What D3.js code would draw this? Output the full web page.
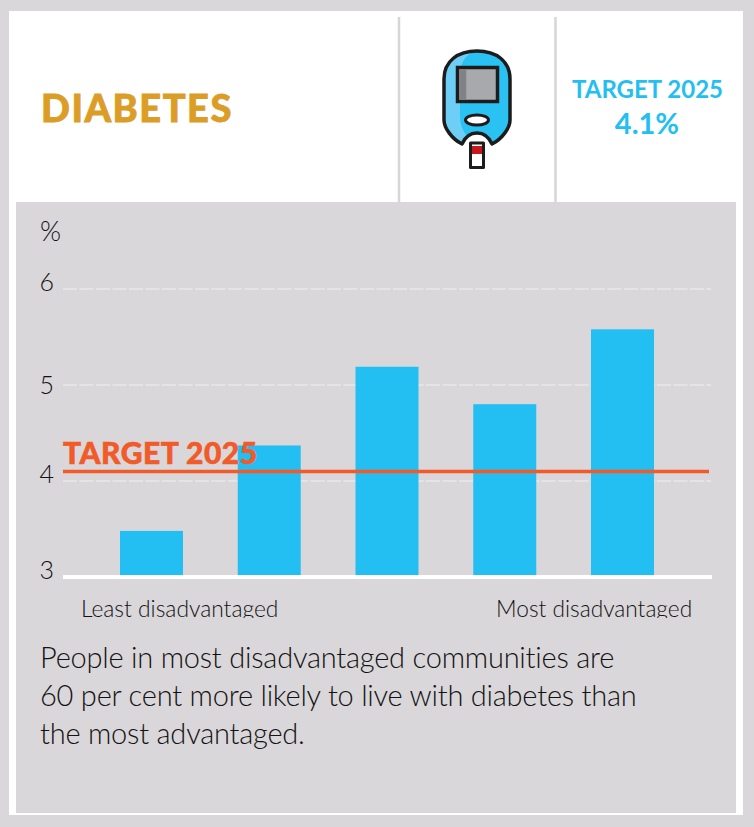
<!DOCTYPE html>
<html>
<head>
<meta charset="utf-8">
<script src="https://cdn.jsdelivr.net/npm/d3@7"></script>
<style>
  html, body { margin: 0; padding: 0; background: #d9d7da; }
  svg { display: block; }
  text { font-family: Lato, sans-serif; }
</style>
</head>
<body>
<div id="chart"></div>
<script>
const categories = ["q1", "q2", "q3", "q4", "q5"];
const values = [3.48, 4.37, 5.19, 4.80, 5.58];
const yTicks = [3, 4, 5, 6];
const target = 4.1;
const captionLines = [
    "People in most disadvantaged communities are",
    "60 per cent more likely to live with diabetes than",
    "the most advantaged."
];

const grey = "#d9d7da", blue = "#23bff2", orange = "#f15a29", gold = "#dc9d27", ink = "#141213";

const svg = d3.select("#chart").append("svg")
    .attr("width", 754)
    .attr("height", 827)
    .attr("viewBox", "0 0 754 827");

// panels
svg.append("rect").attr("width", 754).attr("height", 827).attr("fill", grey);
svg.append("rect").attr("x", 9).attr("y", 11).attr("width", 734).attr("height", 804).attr("fill", "#fff");
svg.append("rect").attr("x", 16).attr("y", 202).attr("width", 720).attr("height", 611).attr("fill", grey);

// header dividers
svg.selectAll("line.divider")
    .data([399, 555.5])
    .enter()
    .append("line")
    .attr("class", "divider")
    .attr("x1", d => d).attr("x2", d => d)
    .attr("y1", 17).attr("y2", 202)
    .attr("stroke", "#d6d6d6")
    .attr("stroke-width", 2.5);

svg.append("text")
    .attr("x", 41).attr("y", 122)
    .attr("font-size", 38).attr("font-weight", 900)
    .attr("letter-spacing", 1.5)
    .attr("stroke", gold).attr("stroke-width", 0.8)
    .attr("fill", gold)
    .text("DIABETES");

svg.append("text")
    .attr("x", 647.5).attr("y", 98)
    .attr("text-anchor", "middle")
    .attr("font-size", 24).attr("font-weight", 700)
    .attr("fill", blue)
    .text("TARGET 2025");

svg.append("text")
    .attr("x", 647).attr("y", 134)
    .attr("text-anchor", "middle")
    .attr("font-size", 29).attr("font-weight", 700)
    .attr("fill", blue)
    .text("4.1%");

// glucose meter icon
const icon = svg.append("g").attr("transform", "translate(442, 49)");
icon.append("rect").attr("x", 28.5).attr("y", 94).attr("width", 13).attr("height", 24.5)
    .attr("fill", "#fff").attr("stroke", "#1c1c1c").attr("stroke-width", 3).attr("stroke-linejoin", "round");
icon.append("rect").attr("x", 30).attr("y", 97).attr("width", 10).attr("height", 8).attr("fill", "#c8161d");
const body = "M2,30 C2,12 16,2 35,2 C54,2 68,12 68,30 L68,71 C68,79 60,90 50,95 C46,86 41,84 35,84 C29,84 24,86 20,95 C10,90 2,79 2,71 Z";
icon.append("path").attr("d", body).attr("fill", "#2ac1f3");
icon.append("path")
    .attr("d", "M2,30 C2,12 16,2 32,3 C24,6 18,12 18,30 L18,65 C18,75 20,80 24,86 L20,95 C10,90 2,79 2,71 Z")
    .attr("fill", "#6dcff6");
icon.append("path").attr("d", body).attr("fill", "none")
    .attr("stroke", "#1c1c1c").attr("stroke-width", 3.5).attr("stroke-linejoin", "round");
icon.append("rect").attr("x", 15.5).attr("y", 18.5).attr("width", 40).attr("height", 34)
    .attr("fill", "#a7a9ac").attr("stroke", "#1c1c1c").attr("stroke-width", 3.5);
icon.append("rect").attr("x", 17.25).attr("y", 20.25).attr("width", 7).attr("height", 30.5).attr("fill", "#808285");
icon.append("ellipse").attr("cx", 35).attr("cy", 71).attr("rx", 11.5).attr("ry", 5)
    .attr("fill", "#fff").attr("stroke", "#1c1c1c").attr("stroke-width", 3);

// chart
const x = d3.scaleBand()
    .domain(categories)
    .range([63, 711])
    .paddingInner(0.465)
    .paddingOuter(0.484);

const y = d3.scaleLinear()
    .domain([3, 6])
    .range([577, 289]);

const yAxis = svg.append("g")
    .attr("transform", "translate(62, 0)")
    .call(d3.axisLeft(y).tickValues(yTicks).tickSize(0).tickPadding(8).tickFormat(d3.format("d")));
yAxis.select(".domain").remove();
yAxis.selectAll("text")
    .attr("font-size", 25)
    .attr("font-weight", 300)
    .attr("fill", ink)
    .attr("dy", d => d === 5 ? "0.32em" : "0.04em")
    .style("font-family", "Lato, sans-serif");

svg.selectAll("line.grid")
    .data(yTicks.filter(d => d > 3))
    .enter()
    .append("line")
    .attr("class", "grid")
    .attr("x1", 63).attr("x2", 711)
    .attr("y1", d => y(d)).attr("y2", d => y(d))
    .attr("stroke", "#f1f0f1")
    .attr("stroke-width", 1)
    .attr("stroke-dasharray", "14 2.5");

svg.selectAll("rect.bar")
    .data(values)
    .enter()
    .append("rect")
    .attr("class", "bar")
    .attr("x", (d, i) => x(categories[i]))
    .attr("y", d => y(d))
    .attr("width", x.bandwidth())
    .attr("height", d => y(3) - y(d) - 2)
    .attr("fill", blue);

// baseline
svg.append("line")
    .attr("x1", 63).attr("x2", 712)
    .attr("y1", 577).attr("y2", 577)
    .attr("stroke", "#fff")
    .attr("stroke-width", 4);

// target
svg.append("line")
    .attr("x1", 63).attr("x2", 709)
    .attr("y1", y(target)).attr("y2", y(target))
    .attr("stroke", orange)
    .attr("stroke-width", 3.5);

svg.append("text")
    .attr("x", 63).attr("y", 464)
    .attr("font-size", 30).attr("font-weight", 900)
    .attr("letter-spacing", 0.5)
    .attr("stroke", orange).attr("stroke-width", 0.6)
    .attr("fill", orange)
    .text("TARGET 2025");

// end labels are cut off at the bottom in the original
svg.append("clipPath").attr("id", "labelClip")
    .append("rect").attr("x", 16).attr("y", 590).attr("width", 720).attr("height", 28);

const ends = svg.append("g").attr("clip-path", "url(#labelClip)");
ends.append("text").attr("x", 81).attr("y", 617)
    .attr("font-size", 22.8).attr("font-weight", 300).attr("fill", ink)
    .text("Least disadvantaged");
ends.append("text").attr("x", 496).attr("y", 617)
    .attr("font-size", 22.7).attr("font-weight", 300).attr("fill", ink)
    .text("Most disadvantaged");

// caption and unit
svg.append("text").attr("x", 40).attr("y", 241)
    .attr("font-size", 27).attr("font-weight", 300).attr("fill", ink)
    .text("%");

svg.selectAll("text.caption")
    .data(captionLines)
    .enter()
    .append("text")
    .attr("class", "caption")
    .attr("x", 40)
    .attr("y", (d, i) => 668 + i * 38)
    .attr("font-size", 29).attr("font-weight", 300)
    .attr("letter-spacing", -0.22)
    .attr("fill", ink)
    .text(d => d);
</script>
</body>
</html>
